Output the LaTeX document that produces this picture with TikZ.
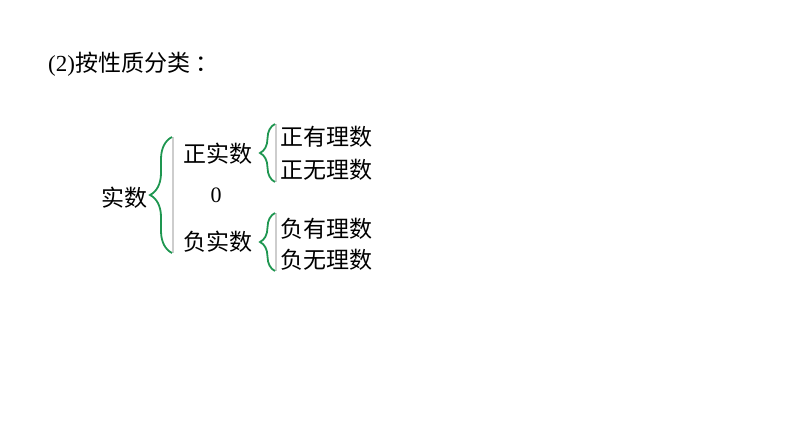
\documentclass[tikz,border=0pt]{standalone}
\usepackage{fontspec}
\setmainfont{Liberation Serif}
\newfontfamily\cjk{Noto Sans CJK SC}
\usetikzlibrary{positioning, decorations.pathreplacing}
\definecolor{braceGreen}{RGB}{30, 150, 80}
\definecolor{ruleGray}{RGB}{205, 205, 205}

\begin{document}
\begin{tikzpicture}[x=1pt, y=-1pt,
  word/.style={inner sep=0pt, font=\fontsize{23}{25}\selectfont\cjk},
  digit/.style={inner sep=0pt, font=\fontsize{22}{24}\selectfont},
  bracebig/.style={decorate, decoration={brace, amplitude=22pt}, line width=1.8pt, braceGreen},
  bracesmall/.style={decorate, decoration={brace, amplitude=15pt}, line width=1.8pt, braceGreen},
  sideline/.style={line width=2pt, ruleGray}]
  \useasboundingbox (0,0) rectangle (794,447);

  % Title
  \node[inner sep=0pt, anchor=west, font=\fontsize{23}{25}\selectfont] (title) at (48,64)
    {(2){\cjk 按性质分类\hspace{5pt}：}};

  % Classification
  \node[word] (real) at (124,198) {实数};
  \node[word] (pos) at (218,154) {正实数};
  \node[digit] (zero) at (216,195) {0};
  \node[word] (neg) at (218,242) {负实数};
  \node[word, anchor=west] (posrat) at (280,137) {正有理数};
  \node[word, anchor=west] (posirr) at (280,170) {正无理数};
  \node[word, anchor=west] (negrat) at (280,229) {负有理数};
  \node[word, anchor=west] (negirr) at (280,260) {负无理数};

  % Brace ends
  \coordinate (bigtop) at (172,137);
  \coordinate (bigbot) at (172,253);
  \coordinate (uptop) at (275,124);
  \coordinate (upbot) at (275,182);
  \coordinate (lotop) at (275,213);
  \coordinate (lobot) at (275,271);

  % Gray rules beside the braces
  \draw[sideline] ([xshift=1pt]bigtop) -- ([xshift=1pt]bigbot);
  \draw[sideline] ([xshift=1pt]uptop) -- ([xshift=1pt]upbot);
  \draw[sideline] ([xshift=1pt]lotop) -- ([xshift=1pt]lobot);

  % Green braces
  \draw[bracebig] (bigbot) -- (bigtop);
  \draw[bracesmall] (upbot) -- (uptop);
  \draw[bracesmall] (lobot) -- (lotop);
\end{tikzpicture}
\end{document}
